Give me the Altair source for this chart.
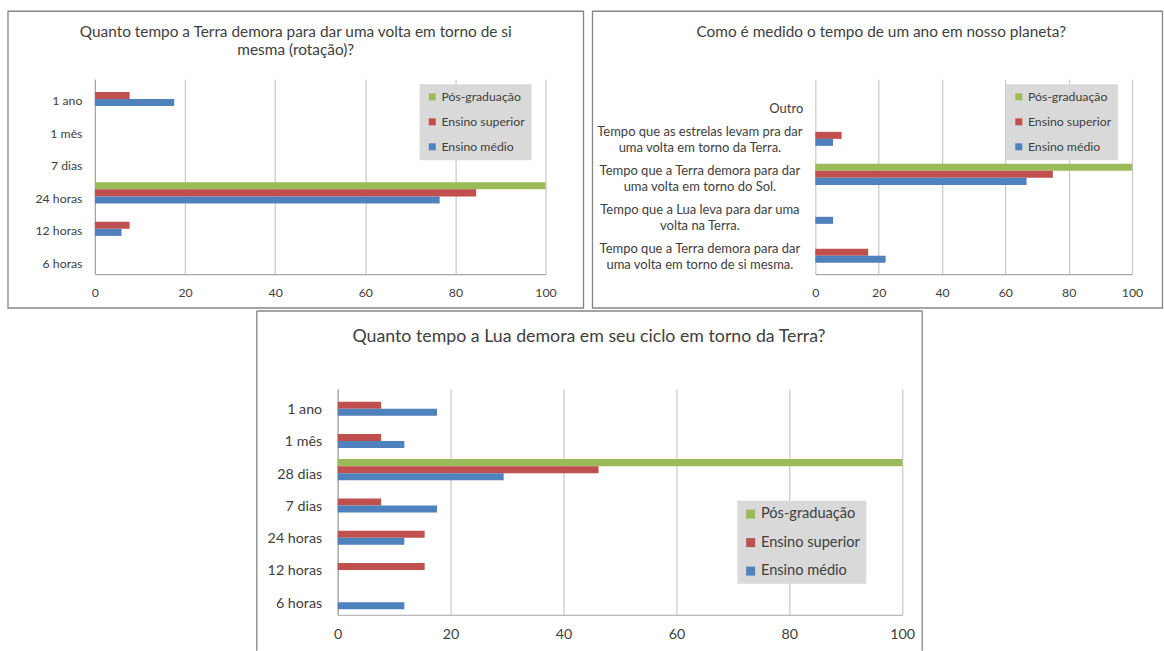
import altair as alt
import pandas as pd

SERIES = ["Pós-graduação", "Ensino superior", "Ensino médio"]
SERIES_COLORS = ["#9bbb59", "#c0504d", "#4f81bd"]
X_TICKS = [0, 20, 40, 60, 80, 100]

FONT = "Lato"
TEXT = "#404040"
GRID = "#c8c8c8"
AXIS_LINE = "#a6a6a6"
FRAME = "#868686"
LEGEND_BG = "#d9d9d9"

# Rotação da Terra (%)
rot_title = ["Quanto tempo a Terra demora para dar uma volta em torno de si",
             "mesma (rotação)?"]
rot_categories = ["1 ano", "1 mês", "7 dias", "24 horas", "12 horas", "6 horas"]
rot_pos = [0, 0, 0, 100, 0, 0]
rot_sup = [7.7, 0, 0, 84.6, 7.7, 0]
rot_med = [17.6, 0, 0, 76.5, 5.9, 0]

# Duração do ano (%)
ano_title = "Como é medido o tempo de um ano em nosso planeta?"
ano_categories = [
    "Outro",
    "Tempo que as estrelas levam pra dar\numa volta em torno da Terra.",
    "Tempo que a Terra demora para dar\numa volta em torno do Sol.",
    "Tempo que a Lua leva para dar uma\nvolta na Terra.",
    "Tempo que a Terra demora para dar\numa volta em torno de si mesma.",
]
ano_pos = [0, 0, 100, 0, 0]
ano_sup = [0, 8.3, 75.0, 0, 16.7]
ano_med = [0, 5.6, 66.7, 5.6, 22.2]

# Ciclo da Lua (%)
lua_title = "Quanto tempo a Lua demora em seu ciclo em torno da Terra?"
lua_categories = ["1 ano", "1 mês", "28 dias", "7 dias", "24 horas", "12 horas", "6 horas"]
lua_pos = [0, 0, 100, 0, 0, 0, 0]
lua_sup = [7.7, 7.7, 46.2, 7.7, 15.4, 15.4, 0]
lua_med = [17.6, 11.8, 29.4, 17.6, 11.8, 0, 11.8]


def long_table(categories, pos, sup, med):
    rows = []
    for serie, vals in zip(SERIES, [pos, sup, med]):
        for cat, v in zip(categories, vals):
            rows.append({"categoria": cat, "serie": serie, "valor": v})
    return pd.DataFrame(rows)


ONE_ROW = pd.DataFrame({"k": [0]})


def frame_box(x0, x1, y0, y1):
    return alt.Chart(ONE_ROW).mark_rect(filled=False, stroke=FRAME, strokeWidth=1.3).encode(
        x=alt.value(x0), x2=alt.value(x1), y=alt.value(y0), y2=alt.value(y1)
    )


def bars(df, categories, font_size, legend_font, legend_xy, legend_pad, legend_row,
         legend_sym, y_axis_labels=True, y_label_pad=13, y_label_offset=6,
         x_label_pad=12, pad_inner=0.35):
    y_axis = alt.Axis(
        labels=y_axis_labels, ticks=False, grid=False, domain=True,
        domainColor=AXIS_LINE, domainWidth=1.2,
        labelFont=FONT, labelFontSize=font_size, labelColor=TEXT,
        labelPadding=y_label_pad, labelOffset=y_label_offset, labelLimit=400,
    )
    x_axis = alt.Axis(
        values=X_TICKS, grid=True, gridColor=GRID, gridWidth=1.2,
        ticks=False, domain=True, domainColor=AXIS_LINE, domainWidth=1.2,
        labelFont=FONT, labelFontSize=font_size, labelColor=TEXT,
        labelPadding=x_label_pad, labelFlush=False,
    )
    return alt.Chart(df).mark_bar().encode(
        x=alt.X("valor:Q", scale=alt.Scale(domain=[0, 100], nice=False), axis=x_axis, title=None),
        y=alt.Y("categoria:N", sort=categories,
                scale=alt.Scale(paddingInner=pad_inner, paddingOuter=pad_inner / 2),
                axis=y_axis, title=None),
        yOffset=alt.YOffset("serie:N", sort=SERIES,
                            scale=alt.Scale(paddingInner=0, paddingOuter=0)),
        color=alt.Color(
            "serie:N",
            scale=alt.Scale(domain=SERIES, range=SERIES_COLORS),
            title=None,
            legend=alt.Legend(
                orient="none", legendX=legend_xy[0], legendY=legend_xy[1],
                fillColor=LEGEND_BG, padding=legend_pad, rowPadding=legend_row,
                symbolType="square", symbolSize=legend_sym, symbolStrokeWidth=0,
                labelFont=FONT, labelFontSize=legend_font, labelColor=TEXT,
                labelOffset=3,
            ),
        ),
    )


def title(text, size, dx, dy, line_height=18):
    return alt.TitleParams(
        text=text, font=FONT, fontSize=size, fontWeight="normal", color=TEXT,
        anchor="middle", baseline="top", offset=0, dx=dx, dy=dy, lineHeight=line_height,
    )


# Painel 1: rotação
W1, H1 = 451, 195
p1 = alt.layer(
    frame_box(-87, 489, -68, 229),
    bars(long_table(rot_categories, rot_pos, rot_sup, rot_med), rot_categories,
         12.3, 12.3, (325, 5), 6.5, 12, 49),
).properties(width=W1, height=H1, title=title(rot_title, 15.4, -24.5, 48))

# Painel 2: ano
W2, H2 = 317, 195
ano_df = long_table(ano_categories, ano_pos, ano_sup, ano_med)
multi_line = pd.DataFrame({"categoria": [c for c in ano_categories if "\n" in c]})
single_line = pd.DataFrame({"categoria": [c for c in ano_categories if "\n" not in c]})
label_y = alt.Y("categoria:N", sort=ano_categories, axis=None)
p2_labels_multi = alt.Chart(multi_line).mark_text(
    align="center", baseline="middle", lineBreak="\n", lineHeight=16,
    font=FONT, fontSize=13, color=TEXT, dy=-5.5,
).encode(y=label_y, text="categoria:N", x=alt.value(-115.5))
p2_labels_single = alt.Chart(single_line).mark_text(
    align="right", baseline="middle", font=FONT, fontSize=13, color=TEXT, dy=10,
).encode(y=label_y, text="categoria:N", x=alt.value(-12))
p2 = alt.layer(
    frame_box(-223, 347.5, -68, 229),
    bars(ano_df, ano_categories, 12.3, 12.3, (191, 5), 6.5, 12, 49,
         y_axis_labels=False, pad_inner=0.34),
    p2_labels_multi,
    p2_labels_single,
).properties(width=W2, height=H2, title=title(ano_title, 15.4, -92.5, 30))

# Painel 3: Lua
W3, H3 = 565, 226
p3_frame = alt.layer(
    alt.Chart(ONE_ROW).mark_rule(stroke=FRAME, strokeWidth=1.3).encode(
        x=alt.value(-81), y=alt.value(-78), y2=alt.value(262)),
    alt.Chart(ONE_ROW).mark_rule(stroke=FRAME, strokeWidth=1.3).encode(
        x=alt.value(585), y=alt.value(-78), y2=alt.value(262)),
    alt.Chart(ONE_ROW).mark_rule(stroke=FRAME, strokeWidth=1.3).encode(
        x=alt.value(-81), x2=alt.value(585), y=alt.value(-78)),
)
p3 = alt.layer(
    p3_frame,
    bars(long_table(lua_categories, lua_pos, lua_sup, lua_med), lua_categories,
         14.3, 14.6, (400, 112), 6, 13.5, 81, y_label_pad=16, y_label_offset=5,
         x_label_pad=13),
).properties(width=W3, height=H3, title=title(lua_title, 17.8, -31, 35))

spacer = alt.Chart(ONE_ROW).mark_point(opacity=0).encode(
    x=alt.value(0), y=alt.value(0)
).properties(width=1, height=1)

top_row = alt.hconcat(p1, p2, spacing=270, bounds="flush").resolve_legend(color="independent")
bottom_row = alt.hconcat(spacer, p3, spacing=242, bounds="flush").resolve_legend(color="independent")

# nested flush rows are stacked by spacing alone, so it spans the first row's plot height too
chart = alt.vconcat(top_row, bottom_row, spacing=310, bounds="flush").resolve_legend(
    color="independent"
).properties(
    padding={"left": 7, "top": 10, "right": 0, "bottom": 0},
    background="white",
).configure_view(stroke=None)

chart.save("out.html", embed_options={"renderer": "svg", "actions": False})
